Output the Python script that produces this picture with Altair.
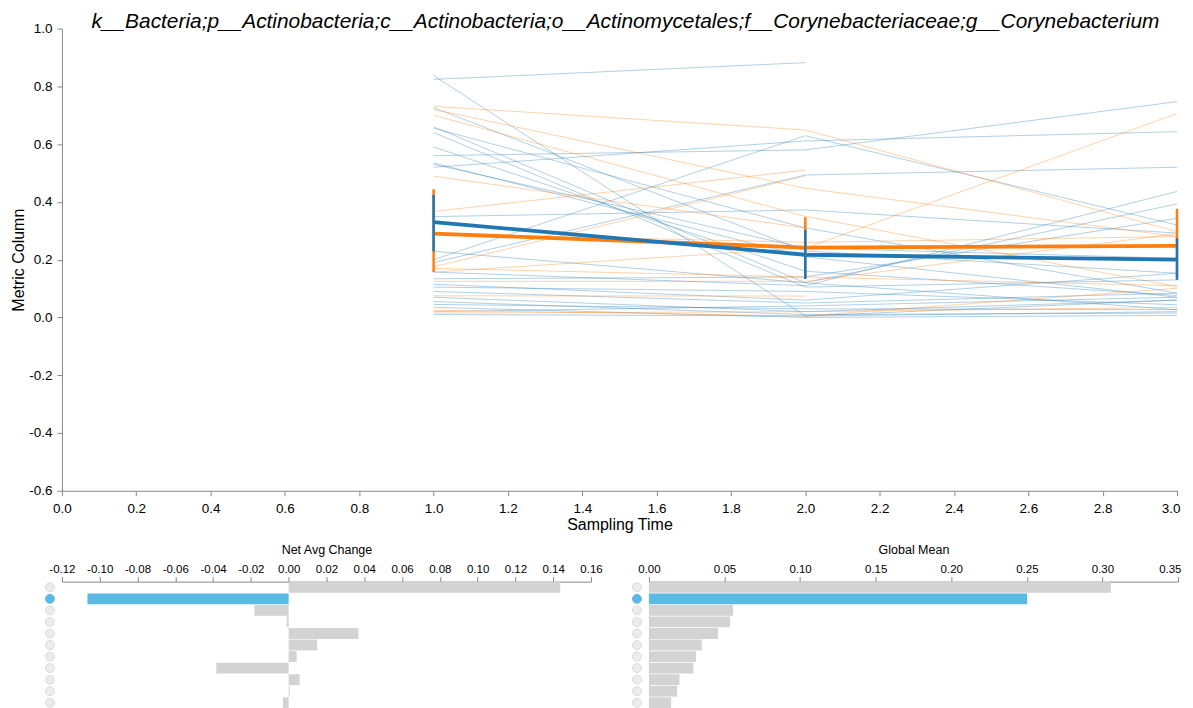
import altair as alt
import pandas as pd

TITLE = "k__Bacteria;p__Actinobacteria;c__Actinobacteria;o__Actinomycetales;f__Corynebacteriaceae;g__Corynebacterium"
FONT = "Liberation Sans"
BLUE = "#1f77b4"
ORANGE = "#ff7f0e"

# ---- individual subjects: values at sampling times 1, 2, 3 (None = missing)
times = [1, 2, 3]
blue_subjects = [
    [0.824, 0.882, None],
    [0.837, 0.005, 0.060],
    [0.726, 0.230, 0.153],
    [0.660, 0.120, 0.027],
    [0.655, 0.310, 0.084],
    [0.640, 0.105, 0.130],
    [0.590, 0.160, 0.076],
    [0.560, 0.580, 0.747],
    [0.535, 0.210, 0.070],
    [0.530, 0.240, 0.205],
    [0.520, 0.611, 0.643],
    [0.200, 0.629, 0.320],
    [0.190, 0.493, 0.520],
    [0.349, 0.372, 0.292],
    [0.229, 0.120, 0.393],
    [0.157, 0.110, 0.436],
    [0.134, 0.140, 0.343],
    [0.115, 0.060, 0.153],
    [0.105, 0.090, 0.044],
    [0.090, 0.050, 0.084],
    [0.070, 0.020, 0.060],
    [0.055, 0.010, 0.015],
    [0.045, 0.030, 0.027],
    [0.035, 0.000, 0.007],
    [0.010, 0.005, 0.020],
    [0.020, 0.040, 0.070],
]
orange_subjects = [
    [0.731, 0.649, 0.297],
    [0.720, 0.447, 0.280],
    [0.700, 0.350, 0.107],
    [0.489, 0.310, None],
    [0.367, 0.510, None],
    [0.175, 0.490, None],
    [0.157, 0.240, 0.706],
    [0.125, 0.125, 0.290],
    [0.075, 0.074, None],
    [0.025, 0.005, 0.101],
    [0.015, 0.020, 0.035],
    [0.170, 0.140, 0.110],
    [0.290, 0.260, 0.280],
]

# ---- group means and error bar limits
group_names = ["Group 1", "Group 2"]
blue_mean = [0.330, 0.217, 0.200]
blue_lower = [0.229, 0.133, 0.130]
blue_upper = [0.424, 0.303, 0.274]
orange_mean = [0.290, 0.242, 0.248]
orange_lower = [0.157, 0.140, 0.135]
orange_upper = [0.444, 0.347, 0.376]

# ---- bottom bar charts
features = [f"Feature {i:02d}" for i in range(1, 12)]
features[1] = TITLE
selected_feature = TITLE
net_avg_change = [0.1437, -0.1065, -0.0181, -0.0010, 0.0369, 0.0151,
                  0.0042, -0.0383, 0.0058, 0.0005, -0.0030]
global_mean = [0.3056, 0.2502, 0.0557, 0.0537, 0.0457, 0.0350,
               0.0312, 0.0294, 0.0202, 0.0187, 0.0147]

# ---------------------------------------------------------------- tables
rows = []
for gname, subs in ((group_names[0], blue_subjects), (group_names[1], orange_subjects)):
    for si, vals in enumerate(subs):
        for t, v in zip(times, vals):
            if v is not None:
                rows.append({"subject": f"{gname}-{si}", "group": gname, "time": t, "value": v})
df_lines = pd.DataFrame(rows)

stat_rows = []
for gname, m, lo, hi in ((group_names[1], orange_mean, orange_lower, orange_upper),
                         (group_names[0], blue_mean, blue_lower, blue_upper)):
    for t, a, b, c in zip(times, m, lo, hi):
        stat_rows.append({"group": gname, "time": t, "mean": a, "lower": b, "upper": c})
df_stats = pd.DataFrame(stat_rows)

df_bars = pd.DataFrame({
    "feature": features,
    "net": net_avg_change,
    "gmean": global_mean,
    "status": ["selected" if f == selected_feature else "other" for f in features],
})

HYPHEN = "replace(datum.label, '\u2212', '-')"
color_scale = alt.Scale(domain=group_names, range=[BLUE, ORANGE])

xaxis = alt.Axis(values=[round(0.2 * i, 1) for i in range(16)], format=".1f",
                 title="Sampling Time", grid=False, labelFlush=False, labelOverlap=False,
                 labelFontSize=13.5, titleFontSize=16, labelPadding=6, titlePadding=1,
                 labelAlign=alt.expr("datum.value >= 3 ? 'right' : 'center'"),
                 labelOffset=alt.expr("datum.value >= 3 ? 3 : 0"))
yaxis = alt.Axis(values=[round(-0.6 + 0.2 * i, 1) for i in range(9)], format=".1f",
                 title="Metric Column", grid=False, labelFlush=False, labelOverlap=False,
                 labelFontSize=13.5, titleFontSize=16, labelPadding=5, titlePadding=2,
                 labelExpr=HYPHEN)
xs = alt.Scale(domain=[0, 3], nice=False, zero=False)
ys = alt.Scale(domain=[-0.6, 1.0], nice=False, zero=False)

lines = alt.Chart(df_lines).mark_line(strokeWidth=1, opacity=0.35).encode(
    x=alt.X("time:Q", scale=xs, axis=xaxis),
    y=alt.Y("value:Q", scale=ys, axis=yaxis),
    color=alt.Color("group:N", scale=color_scale, legend=None),
    detail="subject:N",
)

mean_o = alt.Chart(df_stats[df_stats.group == group_names[1]]).mark_line(strokeWidth=3.8).encode(
    x=alt.X("time:Q", scale=xs), y=alt.Y("mean:Q", scale=ys),
    color=alt.Color("group:N", scale=color_scale, legend=None))
mean_b = alt.Chart(df_stats[df_stats.group == group_names[0]]).mark_line(strokeWidth=3.8).encode(
    x=alt.X("time:Q", scale=xs), y=alt.Y("mean:Q", scale=ys),
    color=alt.Color("group:N", scale=color_scale, legend=None))
err = alt.Chart(df_stats).mark_rule(strokeWidth=2.5).encode(
    x=alt.X("time:Q", scale=xs), y=alt.Y("lower:Q", scale=ys), y2="upper:Q",
    color=alt.Color("group:N", scale=color_scale, legend=None))

main = alt.layer(lines, mean_o, mean_b, err).properties(
    width=1117, height=463,
    title=alt.TitleParams(text=TITLE, font=FONT, fontSize=20.9, fontStyle="italic",
                          fontWeight="normal", anchor="middle", dx=6, offset=-10, color="#000"),
)

SEL = "#5bb9e5"
is_sel = alt.datum.status == "selected"
yband = alt.Y("feature:N", sort=None, axis=None, scale=alt.Scale(paddingInner=0.06, paddingOuter=0.02))


def bar_panel(field, domain, ticks, title, filler_x):
    last = ticks[-1]
    base = alt.Chart(df_bars)
    bars = base.mark_bar().encode(
        x=alt.X(f"{field}:Q", scale=alt.Scale(domain=domain, nice=False, zero=False),
                axis=alt.Axis(orient="top", values=ticks, format=".2f", title=title, grid=False,
                              labelFlush=False, labelOverlap=False, labelExpr=HYPHEN,
                              labelFontSize=11.5, titleFontSize=12.5, titlePadding=7,
                              labelAlign=alt.expr(f"datum.value >= {last} && {last} > 0.3 ? 'right' : 'center'"),
                              labelOffset=alt.expr(f"datum.value >= {last} && {last} > 0.3 ? 3 : 0"))),
        y=yband,
        color=alt.condition(is_sel, alt.value(SEL), alt.value("#d3d3d3")),
    )
    dots = base.mark_circle(size=80, strokeWidth=1, opacity=1).encode(
        x=alt.value(-12), y=yband,
        fill=alt.condition(is_sel, alt.value(SEL), alt.value("#ececec")),
        stroke=alt.condition(is_sel, alt.value(SEL), alt.value("#dadada")),
    )
    layers = [bars, dots]
    if filler_x is not None:
        filler = base.mark_circle(size=4, color="white", opacity=1).encode(
            x=alt.value(filler_x), y=yband)
        layers.append(filler)
    return alt.layer(*layers).properties(width=530, height=127)


left = bar_panel("net", [-0.12, 0.16], [round(-0.12 + 0.02 * i, 2) for i in range(15)],
                 "Net Avg Change", -48)
right = bar_panel("gmean", [0, 0.35], [round(0.05 * i, 2) for i in range(8)],
                  "Global Mean", None)

bottom = alt.hconcat(left, right, spacing=27)

chart = alt.vconcat(main, bottom, spacing=11).properties(
    padding={"left": 2, "top": 2, "right": 0, "bottom": 0}
).configure_view(stroke=None).configure_axis(
    labelFont=FONT, titleFont=FONT, domainColor="#888", tickColor="#888",
    labelColor="#000", titleColor="#000", titleFontWeight="normal",
)

chart.save("out.html", embed_options={"renderer": "svg", "actions": False})
